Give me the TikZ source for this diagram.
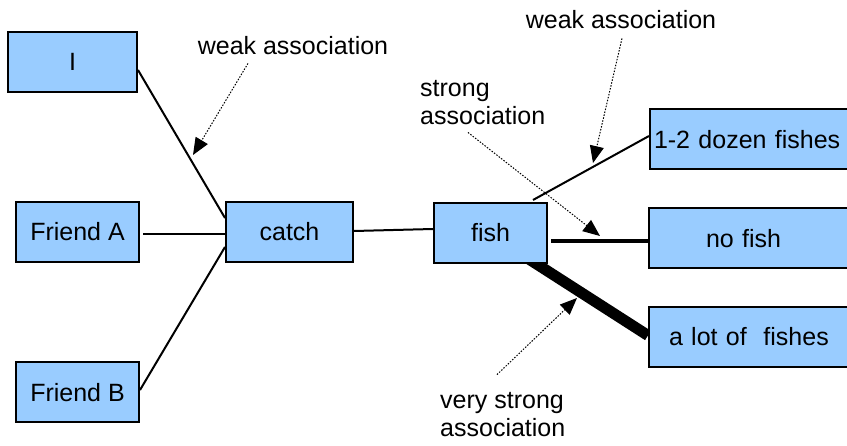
\documentclass[tikz,border=0pt]{standalone}
\usepackage{fontspec}
\setmainfont{Liberation Sans}
\usetikzlibrary{arrows.meta,backgrounds}
\definecolor{boxblue}{HTML}{99CCFF}
\begin{document}
\begin{tikzpicture}[x=1pt,y=-1pt,
  font=\fontsize{25pt}{28pt}\selectfont,
  box/.style={draw, line width=2pt, fill=boxblue, inner sep=0pt,
    text height=18pt, text depth=0pt, minimum height=60pt},
  rbox/.style={box, anchor=west, minimum width=220pt, align=left},
  link/.style={line width=2pt},
  note/.style={inner sep=0pt},
  pointer/.style={line width=1pt, dash pattern=on 1.5pt off 1.5pt,
    -{Triangle[length=17pt,width=14pt]}}]
\useasboundingbox (0,0) rectangle (847,446);

% concept boxes
\node[box, minimum width=129pt] (I) at (72.5,62) {I};
\node[box, minimum width=123pt] (fa) at (77.5,232) {Friend A};
\node[box, minimum width=123pt] (fb) at (77.5,392.5) {Friend B};
\node[box, minimum width=127pt] (catch) at (289.5,232) {catch};
\node[box, minimum width=113pt] (fish) at (490.5,233) {fish};
\node[rbox, text width=212pt] (dozen) at (649,139.5) {1-2 dozen fishes};
\node[rbox, text width=106pt] (nofish) at (648,238.5) {no fish};
\node[rbox, text width=180pt] (alot) at (648,337) {a lot of\ \ fishes};

% associations, line width = strength
\begin{scope}[on background layer]
\draw[link] ([yshift=-8pt]I.east) -- ([yshift=14pt]catch.west);
\draw[link] ([shift={(3pt,-2pt)}]fa.east) -- ([yshift=-2pt]catch.west);
\draw[link] ([yshift=2.5pt]fb.east) -- ([yshift=-15pt]catch.west);
\draw[link] ([yshift=1pt]catch.east) -- ([yshift=4pt]fish.west);
\draw[link] ([xshift=-15pt,yshift=2pt]fish.north east) -- ([yshift=3.5pt]dozen.west);
\draw[line width=4.5pt] ([shift={(3pt,-8pt)}]fish.east) -- ([yshift=-2.5pt]nofish.west);
\draw[line width=11pt] ([shift={(-27pt,10pt)}]fish.south east) -- ([yshift=1.5pt]alot.west);
\end{scope}

% annotations
\node[note, anchor=base] (w1) at (293,55) {weak association};
\node[note, anchor=base] (w2) at (621,29) {weak association};
\node[note, anchor=base west, align=left] (s) at (420,125) {strong\\association};
\node[note, anchor=base west, align=left] (vs) at (440,437) {very strong\\association};

\coordinate (tipA) at (193,155);
\coordinate (tipB) at (593,163);
\coordinate (tipC) at (600,236);
\coordinate (tipD) at (577,298);

\draw[pointer] ([shift={(-45pt,-8pt)}]w1.south) -- (tipA);
\draw[pointer] ([shift={(1pt,-9pt)}]w2.south) -- (tipB);
\draw[pointer] ([shift={(48pt,-7pt)}]s.south west) -- (tipC);
\draw[pointer] ([shift={(57pt,18pt)}]vs.north west) -- (tipD);
\end{tikzpicture}
\end{document}
